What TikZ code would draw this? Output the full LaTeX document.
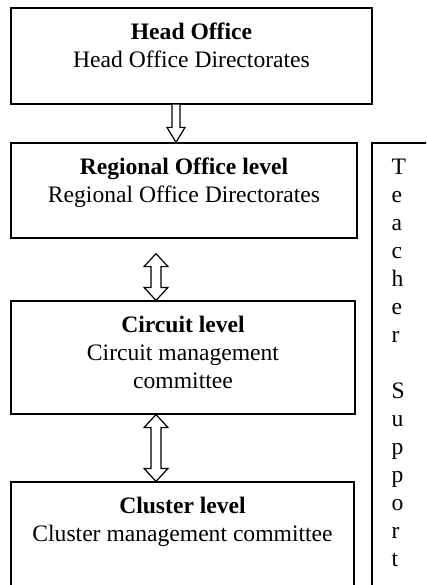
\documentclass[tikz,border=0pt]{standalone}
\usepackage{fontspec}
\setmainfont{Liberation Serif}
\usetikzlibrary{calc,positioning}
\tikzstyle{LevelBox}=[draw,line width=1.2pt,inner sep=0pt]
\tikzstyle{LevelText}=[inner sep=0pt,align=center,font=\fontsize{23.6}{28}\selectfont,
execute at begin node=\strut]
\tikzstyle{SideText}=[inner sep=0pt,align=left,font=\fontsize{23.6}{28}\selectfont,
execute at begin node=\strut]
\tikzstyle{BlockArrow}=[draw,line width=1.2pt,fill=white,line join=miter,
to path={let \p1=(\tikztostart),\p2=(\tikztotarget) in
 (\x1-4pt,\y1) -- (\x1-4pt,\y2+15pt) -- (\x1-9pt,\y2+15pt) -- (\x1,\y2)
 -- (\x1+9pt,\y2+15pt) -- (\x1+4pt,\y2+15pt) -- (\x1+4pt,\y1)}]
\tikzstyle{DoubleBlockArrow}=[draw,line width=1.2pt,fill=white,line join=miter,
to path={let \p1=(\tikztostart),\p2=(\tikztotarget) in
 (\x1,\y1) -- (\x1+12pt,\y1-13pt) -- (\x1+5pt,\y1-13pt) -- (\x1+5pt,\y2+13pt)
 -- (\x1+12pt,\y2+13pt) -- (\x1,\y2) -- (\x1-12pt,\y2+13pt) -- (\x1-5pt,\y2+13pt)
 -- (\x1-5pt,\y1-13pt) -- (\x1-12pt,\y1-13pt) -- cycle}]
\begin{document}
\begin{tikzpicture}[x=1pt,y=-1pt]
        \useasboundingbox (0,0) rectangle (426,585);
        \clip (0,0) rectangle (426,585);
        % level boxes
        \node[LevelBox,minimum width=361pt,minimum height=96pt](ho)at(191.5,56){};
        \node[LevelBox,minimum width=346pt,minimum height=95pt](ro)at(184,190.5){};
        \node[LevelBox,minimum width=344pt,minimum height=113pt](ci)at(183,357.5){};
        \node[LevelBox,minimum width=343pt,minimum height=138pt](cl)at(182.5,551){};
        \node[LevelBox,minimum width=78pt,minimum height=477pt](ts)at(411,381.5){};
        % texts
        \node[LevelText,below=15.5pt of ho.north](hot){\textbf{Head Office}\\Head Office Directorates};
        \node[LevelText,below=15.5pt of ro.north](rot){\textbf{Regional Office level}\\Regional Office Directorates};
        \node[LevelText,below=15.5pt of ci.north](cit){\textbf{Circuit level}\\Circuit management\\committee};
        \node[LevelText,below=15.5pt of cl.north](clt){\textbf{Cluster level}\\Cluster management committee};
        \node[SideText,below right=16.5pt and 20pt of ts.north west](tst){T\\e\\a\\c\\h\\e\\r\\\mbox{}\\S\\u\\p\\p\\o\\r\\t};
        % arrows
        \coordinate (ax) at (156,0);
        \draw[BlockArrow](ho.south -| 176,0) to (ro.north -| 176,0);
        \draw[DoubleBlockArrow]($(ro.south -| ax)+(0,15)$) to (ci.north -| ax);
        \draw[DoubleBlockArrow](ci.south -| ax) to (cl.north -| ax);
    \end{tikzpicture}
\end{document}
